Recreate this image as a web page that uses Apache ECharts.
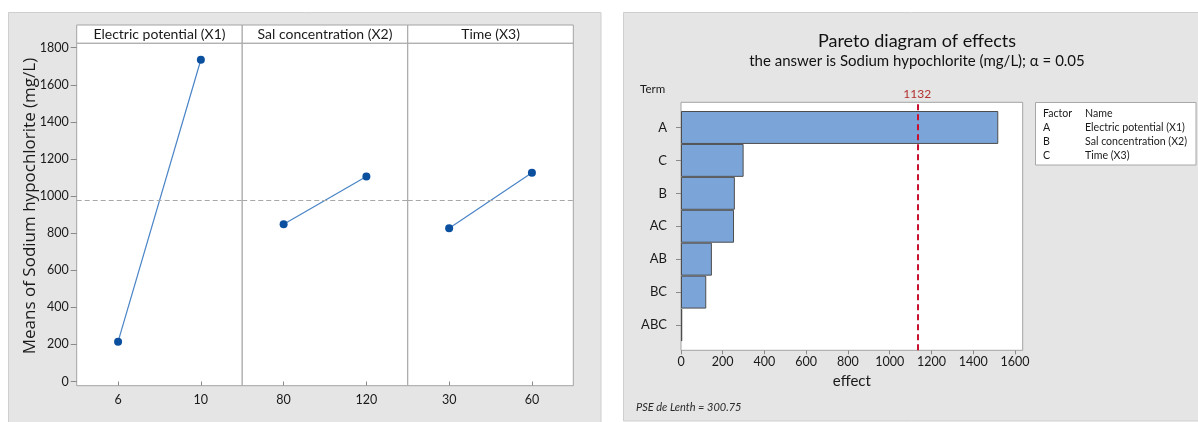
<!DOCTYPE html>
<html>
<head>
<meta charset="utf-8">
<script src="https://cdn.jsdelivr.net/npm/echarts@6/dist/echarts.min.js"></script>
<style>
  html, body { margin: 0; padding: 0; background: #ffffff; }
  #chart { width: 1198px; height: 422px; }
</style>
</head>
<body>
<div id="chart"></div>
<script>
// ---- Main effects plot: factor levels and mean response at each level ----
const facetTitles = ['Electric potential (X1)', 'Sal concentration (X2)', 'Time (X3)'];
const levelsX1 = ['6', '10'];
const levelsX2 = ['80', '120'];
const levelsX3 = ['30', '60'];
const meansX1 = [215, 1735];
const meansX2 = [848, 1106];
const meansX3 = [826, 1126];
const grandMean = 975;
const responseMin = 0;
const responseMax = 1800;
const responseStep = 200;
const responseTitle = 'Means of Sodium hypochlorite (mg/L)';

// ---- Pareto chart of effects ----
const terms = ['A', 'C', 'B', 'AC', 'AB', 'BC', 'ABC'];
const effects = [1520, 300, 258, 254, 148, 121, 6];
const criticalEffect = 1132;
const effectMax = 1637;
const effectStep = 200;
const factorCodes = ['A', 'B', 'C'];
const factorNames = ['Electric potential (X1)', 'Sal concentration (X2)', 'Time (X3)'];
const lenthPSE = '300.75';
const paretoTitle = 'Pareto diagram of effects';
const paretoSubtitle = 'the answer is Sodium hypochlorite (mg/L); \u03b1 = 0.05';

const levels = [levelsX1, levelsX2, levelsX3];
const means = [meansX1, meansX2, meansX3];

const FONT = 'Lato, "Noto Sans", sans-serif';
const TEXT = '#1a1a1a';
const FRAME = '#a3a3a3';
const TICK = '#8a8a8a';
const plainNumber = v => String(v);

// layout of the main effects panel
const mL = 76.7, mR = 573.3;
const facetW = (mR - mL) / 3;
const stripTop = 25, plotTop = 43.3, plotBottom = 385.7;
const dataTop = 47.7, dataBottom = 381.5;

// layout of the Pareto panel
const pL = 681, pR = 1022.7;
const pFrameTop = 102.3, pFrameBottom = 350.3;
const pBarTop = 111, pBarBottom = 341.5;

const grid = [], xAxis = [], yAxis = [], series = [], graphic = [];

function hiddenAxes(gi, xmax) {
  xAxis.push({ gridIndex: gi, type: 'value', min: 0, max: xmax || 1, show: false });
  yAxis.push({ gridIndex: gi, type: 'value', min: 0, max: 1, show: false });
}

// panel backgrounds
graphic.push({
  type: 'rect', z: -20, silent: true,
  shape: { x: 8.5, y: 12.5, width: 592.5, height: 412 },
  style: { fill: '#e5e5e5', stroke: '#cfcfcf', lineWidth: 1 }
});
graphic.push({
  type: 'rect', z: -20, silent: true,
  shape: { x: 623.5, y: 12.5, width: 580, height: 408.5 },
  style: { fill: '#e5e5e5', stroke: '#cfcfcf', lineWidth: 1 }
});

// facet strips and frames
for (let i = 0; i < 3; i++) {
  const left = mL + i * facetW;
  grid.push({ show: true, left: left, top: stripTop, width: facetW, height: plotTop - stripTop,
    backgroundColor: '#ffffff', borderColor: FRAME, borderWidth: 1 });
  hiddenAxes(grid.length - 1);
  grid.push({ show: true, left: left, top: plotTop, width: facetW, height: plotBottom - plotTop,
    backgroundColor: '#ffffff', borderColor: FRAME, borderWidth: 1 });
  hiddenAxes(grid.length - 1);
  graphic.push({
    type: 'text', silent: true,
    x: left + facetW / 2, y: (stripTop + plotTop) / 2,
    style: { text: facetTitles[i], font: '14px ' + FONT, fill: TEXT, textAlign: 'center', textVerticalAlign: 'middle' }
  });
}

// facet data grids
for (let i = 0; i < 3; i++) {
  const left = mL + i * facetW;
  grid.push({ left: left, top: dataTop, width: facetW, height: dataBottom - dataTop });
  const gi = grid.length - 1;
  xAxis.push({
    gridIndex: gi, type: 'category', data: levels[i], boundaryGap: true,
    offset: plotBottom - dataBottom,
    axisLine: { show: false },
    axisTick: { show: true, alignWithLabel: true, length: 4, lineStyle: { color: TICK } },
    axisLabel: { margin: 8, fontSize: 12.5, fontFamily: FONT, color: TEXT },
    splitLine: { show: false }
  });
  yAxis.push({
    gridIndex: gi, type: 'value', min: responseMin, max: responseMax, interval: responseStep,
    show: i === 0,
    axisLine: { show: false },
    axisTick: { show: true, length: 6, lineStyle: { color: TICK } },
    axisLabel: { margin: 8, fontSize: 12.5, fontFamily: FONT, color: TEXT, formatter: plainNumber },
    splitLine: { show: false }
  });
  series.push({
    type: 'line', xAxisIndex: gi, yAxisIndex: gi, data: means[i],
    symbol: 'circle', symbolSize: 8,
    itemStyle: { color: '#0b4f9f' },
    lineStyle: { color: '#4a84c6', width: 1.2 },
    z: 3,
    markLine: {
      silent: true, symbol: 'none',
      label: { show: false },
      lineStyle: { color: '#a8a8a8', type: [5, 3], width: 1 },
      data: [{ yAxis: grandMean }]
    }
  });
}

// response axis title
graphic.push({
  type: 'text', silent: true, x: 30, y: 206, rotation: Math.PI / 2,
  style: { text: responseTitle, font: '17px "Open Sans", sans-serif', fill: TEXT,
    textAlign: 'center', textVerticalAlign: 'middle' }
});

// Pareto frame with the critical effect reference line
grid.push({ show: true, left: pL, top: pFrameTop, width: pR - pL, height: pFrameBottom - pFrameTop,
  backgroundColor: '#ffffff', borderColor: FRAME, borderWidth: 1 });
const frameIdx = grid.length - 1;
hiddenAxes(frameIdx, effectMax);
series.push({
  type: 'line', xAxisIndex: frameIdx, yAxisIndex: frameIdx, data: [],
  markLine: {
    silent: true, symbol: 'none',
    lineStyle: { color: '#c8102e', type: [6, 4], width: 2 },
    label: { show: true, position: 'end', distance: 2, formatter: String(criticalEffect),
      color: '#b0302f', fontSize: 12, fontFamily: FONT },
    data: [{ xAxis: criticalEffect }]
  }
});

// Pareto bars
grid.push({ left: pL, top: pBarTop, width: pR - pL, height: pBarBottom - pBarTop });
const barIdx = grid.length - 1;
xAxis.push({
  gridIndex: barIdx, type: 'value', min: 0, max: effectMax, interval: effectStep,
  offset: pFrameBottom - pBarBottom,
  axisLine: { show: false },
  axisTick: { show: true, length: 4, lineStyle: { color: TICK } },
  axisLabel: { margin: 5, fontSize: 12.5, fontFamily: FONT, color: TEXT, showMaxLabel: false, formatter: plainNumber },
  splitLine: { show: false },
  name: 'effect', nameLocation: 'middle', nameGap: 22,
  nameTextStyle: { fontSize: 15, fontFamily: FONT, color: TEXT }
});
yAxis.push({
  gridIndex: barIdx, type: 'category', data: terms, inverse: true,
  axisLine: { show: false },
  axisTick: { show: true, alignWithLabel: true, length: 5, lineStyle: { color: TICK } },
  axisLabel: { margin: 14, fontSize: 13, fontFamily: FONT, color: TEXT },
  splitLine: { show: false }
});
series.push({
  type: 'bar', xAxisIndex: barIdx, yAxisIndex: barIdx, data: effects,
  barCategoryGap: '0%',
  itemStyle: { color: '#7ba5d8', borderColor: '#4d4d4d', borderWidth: 1 },
  z: 3
});

// Pareto titles and notes
graphic.push({
  type: 'text', silent: true, x: 917, y: 41,
  style: { text: paretoTitle, font: '18px ' + FONT, fill: '#111111', textAlign: 'center', textVerticalAlign: 'middle' }
});
graphic.push({
  type: 'text', silent: true, x: 917, y: 61,
  style: { text: paretoSubtitle, font: '15px ' + FONT, fill: '#111111', textAlign: 'center', textVerticalAlign: 'middle' }
});
graphic.push({
  type: 'text', silent: true, x: 640, y: 89,
  style: { text: 'Term', font: '11.5px ' + FONT, fill: TEXT, textAlign: 'left', textVerticalAlign: 'middle' }
});
graphic.push({
  type: 'text', silent: true, x: 636, y: 407,
  style: { text: 'PSE de Lenth = ' + lenthPSE, font: 'italic 11px ' + FONT, fill: '#2a2a2a', textAlign: 'left', textVerticalAlign: 'middle' }
});

// factor key
graphic.push({
  type: 'rect', silent: true, z: 1,
  shape: { x: 1035.5, y: 102.5, width: 160.5, height: 62.5 },
  style: { fill: '#ffffff', stroke: '#a8a8a8', lineWidth: 1 }
});
const keyRows = [['Factor', 'Name']].concat(factorCodes.map((c, k) => [c, factorNames[k]]));
keyRows.forEach((row, k) => {
  const y = 114 + k * 14;
  graphic.push({ type: 'text', silent: true, z: 2, x: 1043, y: y,
    style: { text: row[0], font: '10.6px ' + FONT, fill: TEXT, textAlign: 'left', textVerticalAlign: 'middle' } });
  graphic.push({ type: 'text', silent: true, z: 2, x: 1085, y: y,
    style: { text: row[1], font: '10.6px ' + FONT, fill: TEXT, textAlign: 'left', textVerticalAlign: 'middle' } });
});

const chart = echarts.init(document.getElementById('chart'), null, { renderer: 'canvas' });
chart.setOption({
  backgroundColor: '#ffffff',
  animation: false,
  grid: grid,
  xAxis: xAxis,
  yAxis: yAxis,
  series: series,
  graphic: graphic
});
</script>
</body>
</html>
